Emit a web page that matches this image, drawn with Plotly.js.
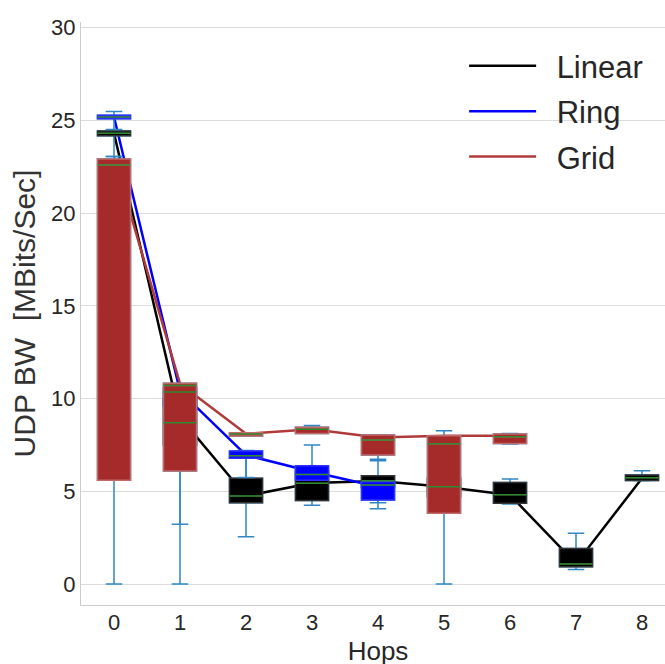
<!DOCTYPE html>
<html>
<head>
<meta charset="utf-8">
<script src="https://cdn.plot.ly/plotly-3.0.1.min.js"></script>
<style>html,body{margin:0;padding:0;overflow:hidden;background:#fff;}</style>
</head>
<body>
<div id="chart"></div>
<script>
// Hop counts (x categories)
const hops = [0, 1, 2, 3, 4, 5, 6, 7, 8];
const xTickLabels = ['0', '1', '2', '3', '4', '5', '6', '7', '8'];
const yTickVals = [0, 5, 10, 15, 20, 25, 30];
const seriesNames = ['Linear', 'Ring', 'Grid'];

// Linear topology box statistics (UDP BW, MBits/Sec)
const linearLow  = [23.05, 3.23, 2.55, 4.25, 4.06, 4.2, 4.31, 0.79, 5.57];
const linearQ1   = [24.17, 7.5, 4.38, 4.5, 5.2, 4.7, 4.35, 0.93, 5.58];
const linearMed  = [24.3, 8.7, 4.74, 5.43, 5.57, 5.25, 4.81, 1.08, 5.73];
const linearQ3   = [24.42, 10.0, 5.70, 6.1, 5.84, 5.7, 5.48, 1.92, 5.88];
const linearHigh = [24.45, 10.6, 6.85, 6.2, 6.65, 6.3, 5.66, 2.74, 6.11];
const linearLine = [24.3, 9.0, 4.75, 5.45, 5.55, 5.25, 4.8, 1.1, 5.7];

// Ring topology box statistics
const ringLow  = [24.5, 8.0, 5.75, 5.6, 4.38];
const ringQ1   = [25.08, 9.6, 6.78, 5.6, 4.53];
const ringMed  = [25.18, 10.35, 6.92, 5.91, 5.34];
const ringQ3   = [25.27, 10.6, 7.17, 6.38, 5.51];
const ringHigh = [25.48, 10.75, 7.2, 7.49, 5.51];
const ringLine = [25.18, 10.4, 6.95, 6.05, 5.25];

// Grid topology box statistics
const gridLow  = [0, 0, 7.98, 8.12, 6.73, 0, 7.55];
const gridQ1   = [5.6, 6.1, 7.98, 8.12, 6.95, 3.81, 7.58];
const gridMed  = [22.59, 10.7, 8.09, 8.34, 7.76, 7.56, 7.94];
const gridQ3   = [22.91, 10.82, 8.16, 8.45, 8.03, 8.0, 8.09];
const gridHigh = [23.05, 10.82, 8.16, 8.55, 8.03, 8.27, 8.12];
const gridLine = [23.0, 10.8, 8.1, 8.35, 7.9, 8.0, 8.0];

const whiskerColor = '#3186c4';
const medianColor = '#2f8a2f';
const traces = [];

function addLine(name, color, vals) {
  traces.push({
    type: 'scatter', mode: 'lines', name: '\u2002' + name,
    legendgroup: name,
    x: hops.slice(0, vals.length), y: vals,
    xaxis: 'x', yaxis: 'y',
    line: {color: color, width: 2.5},
    hoverinfo: 'skip'
  });
}

function addBoxes(fill, edge, low, q1, med, q3, high) {
  const x = hops.slice(0, med.length);
  // whiskers + caps
  traces.push({
    type: 'box', orientation: 'v', x: x, q1: q1, median: med, q3: q3,
    lowerfence: low, upperfence: high,
    xaxis: 'x', yaxis: 'y2', width: 0.5, whiskerwidth: 0.5,
    fillcolor: 'rgba(0,0,0,0)', line: {color: whiskerColor, width: 1.5},
    showlegend: false, hoverinfo: 'skip', boxpoints: false
  });
  // filled box
  traces.push({
    type: 'box', orientation: 'v', x: x, q1: q1, median: med, q3: q3,
    lowerfence: q1, upperfence: q3,
    xaxis: 'x', yaxis: 'y2', width: 0.5, whiskerwidth: 0,
    fillcolor: fill, line: {color: edge, width: 1.5},
    showlegend: false, hoverinfo: 'skip', boxpoints: false
  });
}

function addMedians(med) {
  traces.push({
    type: 'scatter', mode: 'markers', x: hops.slice(0, med.length), y: med,
    xaxis: 'x', yaxis: 'y2',
    marker: {symbol: 'line-ew', size: 23.5, color: medianColor, line: {color: medianColor, width: 1.5}},
    showlegend: false, hoverinfo: 'skip'
  });
}

addLine(seriesNames[0], '#000000', linearLine);
addLine(seriesNames[1], '#0000ff', ringLine);
addLine(seriesNames[2], '#b03a3a', gridLine);

addBoxes('#000000', '#333333', linearLow, linearQ1, linearMed, linearQ3, linearHigh);
addBoxes('#0000ff', '#3030ff', ringLow, ringQ1, ringMed, ringQ3, ringHigh);
addBoxes('#a52a2a', '#c06a6a', gridLow, gridQ1, gridMed, gridQ3, gridHigh);

addMedians(linearMed);
addMedians(ringMed);
addMedians(gridMed);

const yRange = [-1.13, 30.3];
const fontFam = '"Liberation Sans", Arial, sans-serif';
const layout = {
  width: 700, height: 700,
  margin: {l: 81, r: 25, t: 22, b: 95},
  paper_bgcolor: '#ffffff', plot_bgcolor: '#ffffff',
  font: {family: fontFam, color: '#262626'},
  boxmode: 'overlay',
  showlegend: true,
  legend: {
    x: 0.645, y: 0.9705, xanchor: 'left', yanchor: 'top',
    font: {size: 31, color: '#262626'}, bgcolor: 'rgba(0,0,0,0)',
    itemwidth: 67, traceorder: 'grouped', tracegroupgap: 2
  },
  xaxis: {
    range: [-0.5, 8.5], tickvals: hops, ticktext: xTickLabels,
    showgrid: false, zeroline: false, showline: true, linecolor: '#cccccc', linewidth: 1.2,
    ticks: '', tickfont: {size: 22, color: '#262626'}, ticklabelstandoff: -3,
    title: {text: 'Hops', font: {size: 26, color: '#262626'}, standoff: 8}
  },
  yaxis: {
    range: yRange, tickvals: yTickVals,
    showgrid: true, gridcolor: '#dcdcdc', gridwidth: 1, zeroline: false,
    showline: true, linecolor: '#cccccc', linewidth: 1.2,
    ticks: '', tickfont: {size: 22, color: '#262626'},
    title: {text: 'UDP BW  [MBits/Sec]\u2002\u00a0', font: {size: 30, color: '#333333'}, standoff: 6}
  },
  yaxis2: {
    range: yRange, overlaying: 'y', side: 'left', visible: false,
    showgrid: false, zeroline: false
  }
};

Plotly.newPlot('chart', traces, layout, {displayModeBar: false, staticPlot: true});
</script>
</body>
</html>
